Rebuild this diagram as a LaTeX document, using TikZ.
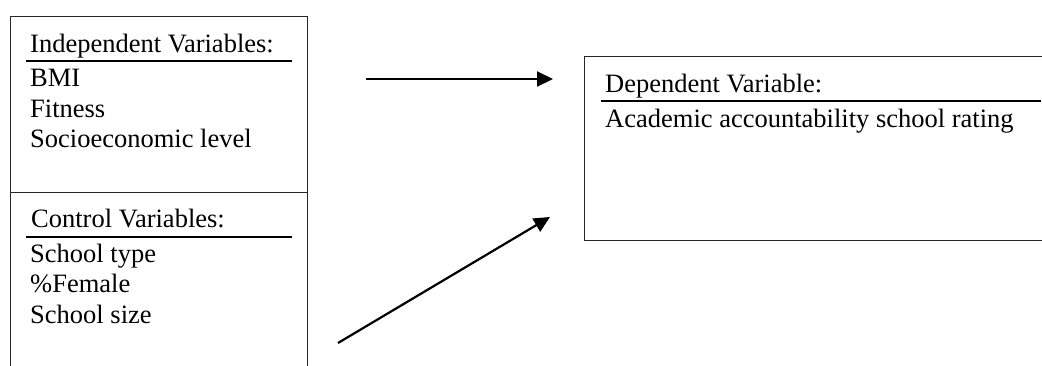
\documentclass[tikz,border=0pt]{standalone}
\usepackage{fontspec}
\setmainfont{Liberation Serif}
\usetikzlibrary{arrows.meta}
\begin{document}
\begin{tikzpicture}[x=1pt,y=-1pt,
  lbl/.style={anchor=base west,inner sep=0pt,font=\fontsize{26.5}{30}\selectfont},
  boxframe/.style={draw=black!85,line width=1.3pt,inner sep=0pt,anchor=north west},
  headrule/.style={line width=2pt},
  conn/.style={line width=2.2pt,-{Triangle[length=16pt,width=15pt]}}]
\useasboundingbox (0,0) rectangle (1042,365);
\clip (0,0) rectangle (1042,365);
% boxes
\node[boxframe,minimum width=297pt,minimum height=176pt] (indepbox) at (10,16) {};
\node[boxframe,minimum width=297pt,minimum height=220pt] (ctrlbox) at (10,192) {};
\node[boxframe,minimum width=520pt,minimum height=184pt] (depbox) at (584,56) {};
% independent
\node[lbl] (indh) at (30,52) {Independent Variables:};
\draw[headrule] (26,61) -- (292,61);
\node[lbl] (bmi) at (30,86) {BMI};
\node[lbl] (fit) at (30,117) {Fitness};
\node[lbl] (ses) at (30,147) {Socioeconomic level};
% control
\node[lbl] (ctrlh) at (31,227) {Control Variables:};
\draw[headrule] (26,237) -- (292,237);
\node[lbl] (stype) at (30,262) {School type};
\node[lbl] (fem) at (30,292) {\%Female};
\node[lbl] (ssize) at (30,323) {School size};
% dependent
\node[lbl] (deph) at (605,92) {Dependent Variable:};
\draw[headrule] (601,101) -- (1041,101);
\node[lbl] (acad) at (605,127) {Academic accountability school rating};
% arrows
\coordinate (a1s) at (366,79);
\coordinate (a1e) at (553,79);
\coordinate (a2s) at (338,343);
\coordinate (a2e) at (550,217);
\draw[conn] (a1s) -- (a1e);
\draw[conn] (a2s) -- (a2e);
\end{tikzpicture}
\end{document}
